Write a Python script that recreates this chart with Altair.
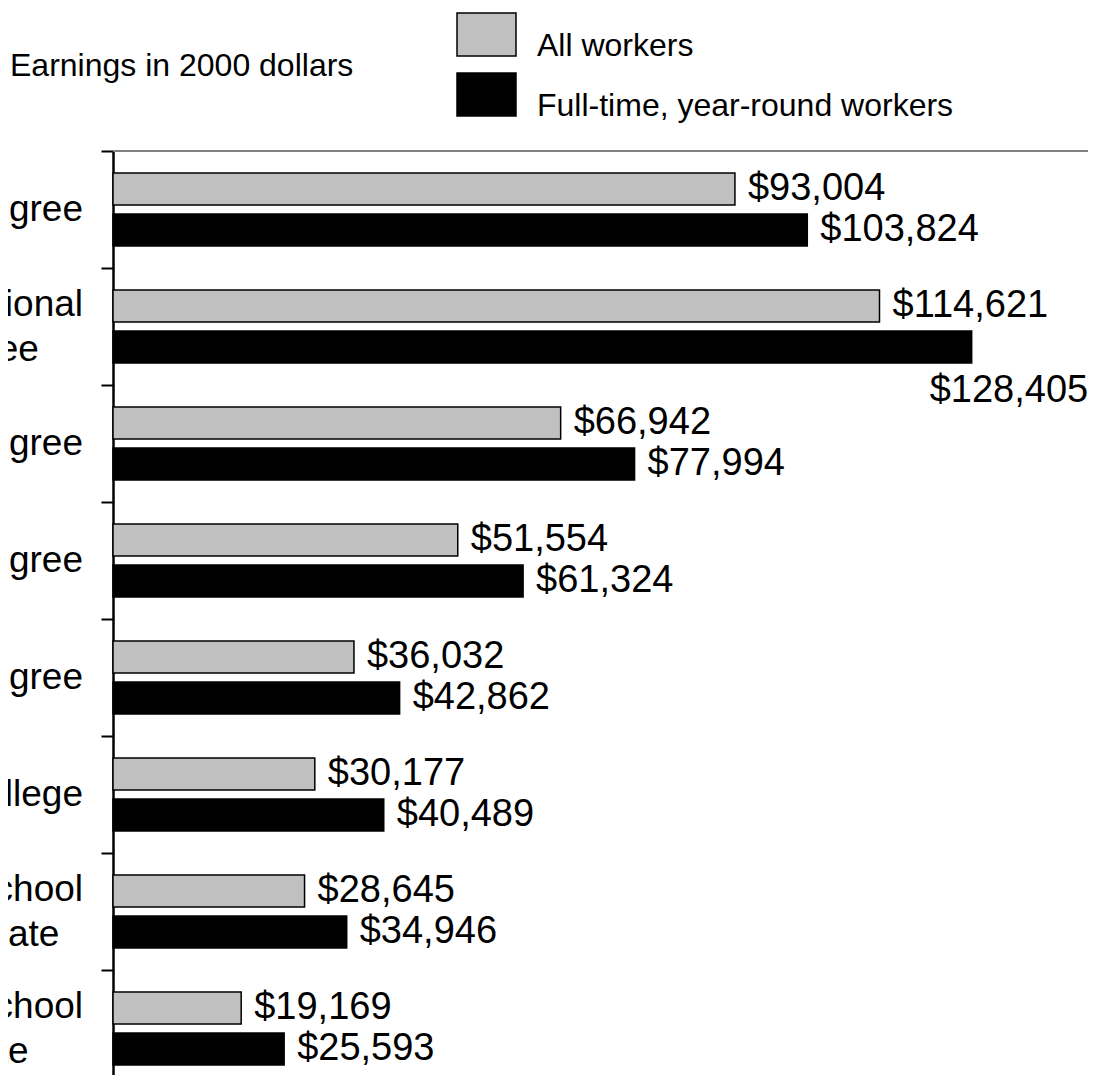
import altair as alt
import pandas as pd

# ---- data ----
categories = ["Doctoral degree", "Professional degree", "Master's degree",
              "Bachelor's degree", "Associate degree", "Some college",
              "High school graduate", "Not high school graduate"]
category_lines = ["Doctoral degree", "Professional\ndegree", "Master's degree",
                  "Bachelor's degree", "Associate degree", "Some college",
                  "High school\ngraduate", "Not high school\ngraduate"]
series_names = ["All workers", "Full-time, year-round workers"]
all_workers = [93004, 114621, 66942, 51554, 36032, 30177, 28645, 19169]
full_time = [103824, 128405, 77994, 61324, 42862, 40489, 34946, 25593]

# ---- layout / style ----
FONT = "Liberation Sans"
W, H = 975, 924
STEP_RANGE = 936
X_MAX = 145800
LABEL_SIZE = 37
VALUE_SIZE = 38

rows = []
for c, a, f in zip(categories, all_workers, full_time):
    rows.append({"cat": c, "series": series_names[0], "value": a})
    rows.append({"cat": c, "series": series_names[1], "value": f})
df = pd.DataFrame(rows)

# Arial / Liberation Sans advance widths (per 1000 em) to centre label lines in a right-aligned block
AW = {' ': 278, "'": 191, '-': 333, ',': 278}
AW.update(dict(zip("ABCDEFGHIJKLMNOPQRSTUVWXYZ",
                   [667, 667, 722, 722, 667, 611, 778, 722, 278, 500, 667, 556, 833,
                    722, 778, 667, 778, 722, 667, 611, 722, 667, 944, 667, 667, 611])))
AW.update(dict(zip("abcdefghijklmnopqrstuvwxyz",
                   [556, 556, 500, 556, 556, 278, 556, 556, 222, 222, 500, 222, 833,
                    556, 556, 556, 556, 333, 500, 278, 556, 500, 722, 500, 500, 500])))


def text_w(s, size):
    return sum(AW.get(ch, 556) for ch in s) * size / 1000.0


lab_rows = []
for c, txt in zip(categories, category_lines):
    lines = txt.split("\n")
    w = max(text_w(line, LABEL_SIZE) for line in lines)
    lab_rows.append({"cat": c, "txt": txt, "cx": -30 - w / 2, "nlines": len(lines)})
lab_df = pd.DataFrame(lab_rows)

y_enc = alt.Y("cat:N", sort=categories,
              scale=alt.Scale(paddingInner=0, paddingOuter=0, range=[0, STEP_RANGE]),
              axis=alt.Axis(labels=False, title=None, grid=False, ticks=True,
                            tickSize=12, tickWidth=2, tickColor="black",
                            domainColor="black", domainWidth=2.5, bandPosition=0))
yoff_enc = alt.YOffset("series:N", sort=series_names,
                       scale=alt.Scale(paddingInner=0.2195, paddingOuter=0.5366))
x_enc = alt.X("value:Q", scale=alt.Scale(domain=[0, X_MAX], nice=False, zero=True),
              axis=None)

bars = alt.Chart(df).mark_bar(stroke="black", strokeWidth=1.5).encode(
    x=x_enc,
    y=y_enc,
    yOffset=yoff_enc,
    color=alt.Color("series:N", sort=series_names,
                    scale=alt.Scale(domain=series_names, range=["#c0c0c0", "#000000"]),
                    legend=alt.Legend(
                        title=None, orient="none", legendX=343, legendY=-136,
                        symbolType="M-1,-1.103L1,-1.103L1,0.355L-1,0.355Z",
                        symbolSize=3481, symbolStrokeColor="black",
                        symbolStrokeWidth=1.5, labelFont=FONT, labelFontSize=32,
                        labelColor="black", labelOffset=20, rowPadding=7,
                        labelBaseline="middle", padding=0, labelLimit=700)),
)

value_text = alt.Chart(df).transform_filter("datum.value < 125000").mark_text(
    align="left", baseline="middle", dx=13, font=FONT, fontSize=VALUE_SIZE, color="black"
).encode(x=x_enc, y=y_enc, yOffset=yoff_enc,
         text=alt.Text("value:Q", format="$,.0f"))

value_text_below = alt.Chart(df).transform_filter("datum.value >= 125000").mark_text(
    align="left", baseline="middle", dx=-42, dy=44, font=FONT, fontSize=VALUE_SIZE,
    color="black"
).encode(x=x_enc, y=y_enc, yOffset=yoff_enc,
         text=alt.Text("value:Q", format="$,.0f"))

cat_labels_one = alt.Chart(lab_df).transform_filter("datum.nlines == 1").mark_text(
    align="center", baseline="middle", font=FONT, fontSize=LABEL_SIZE, color="black"
).encode(x=alt.X("cx:Q", scale=None), y=y_enc, text="txt:N")

cat_labels_two = alt.Chart(lab_df).transform_filter("datum.nlines == 2").mark_text(
    align="center", baseline="middle", lineBreak="\n", lineHeight=45, dy=-22,
    font=FONT, fontSize=LABEL_SIZE, color="black"
).encode(x=alt.X("cx:Q", scale=None), y=y_enc, text="txt:N")

top_rule = alt.Chart(df).mark_rule(color="#808080", strokeWidth=2).encode(
    x=alt.value(0), x2=alt.value(W), y=alt.value(0))

chart = alt.layer(top_rule, bars, value_text, value_text_below,
                  cat_labels_one, cat_labels_two).properties(
    width=W, height=H,
    title=alt.TitleParams("Earnings in 2000 dollars", anchor="start", frame="group",
                          orient="top", dx=-103, dy=83, offset=0, baseline="middle",
                          font=FONT, fontSize=32, fontWeight="normal", color="black"),
    padding={"left": 105, "top": 143, "right": 0, "bottom": 0},
    autosize=alt.AutoSizeParams(type="none"),
).configure_view(stroke=None).configure(background="white")

chart.save("out.html", embed_options={"renderer": "svg", "actions": False})
